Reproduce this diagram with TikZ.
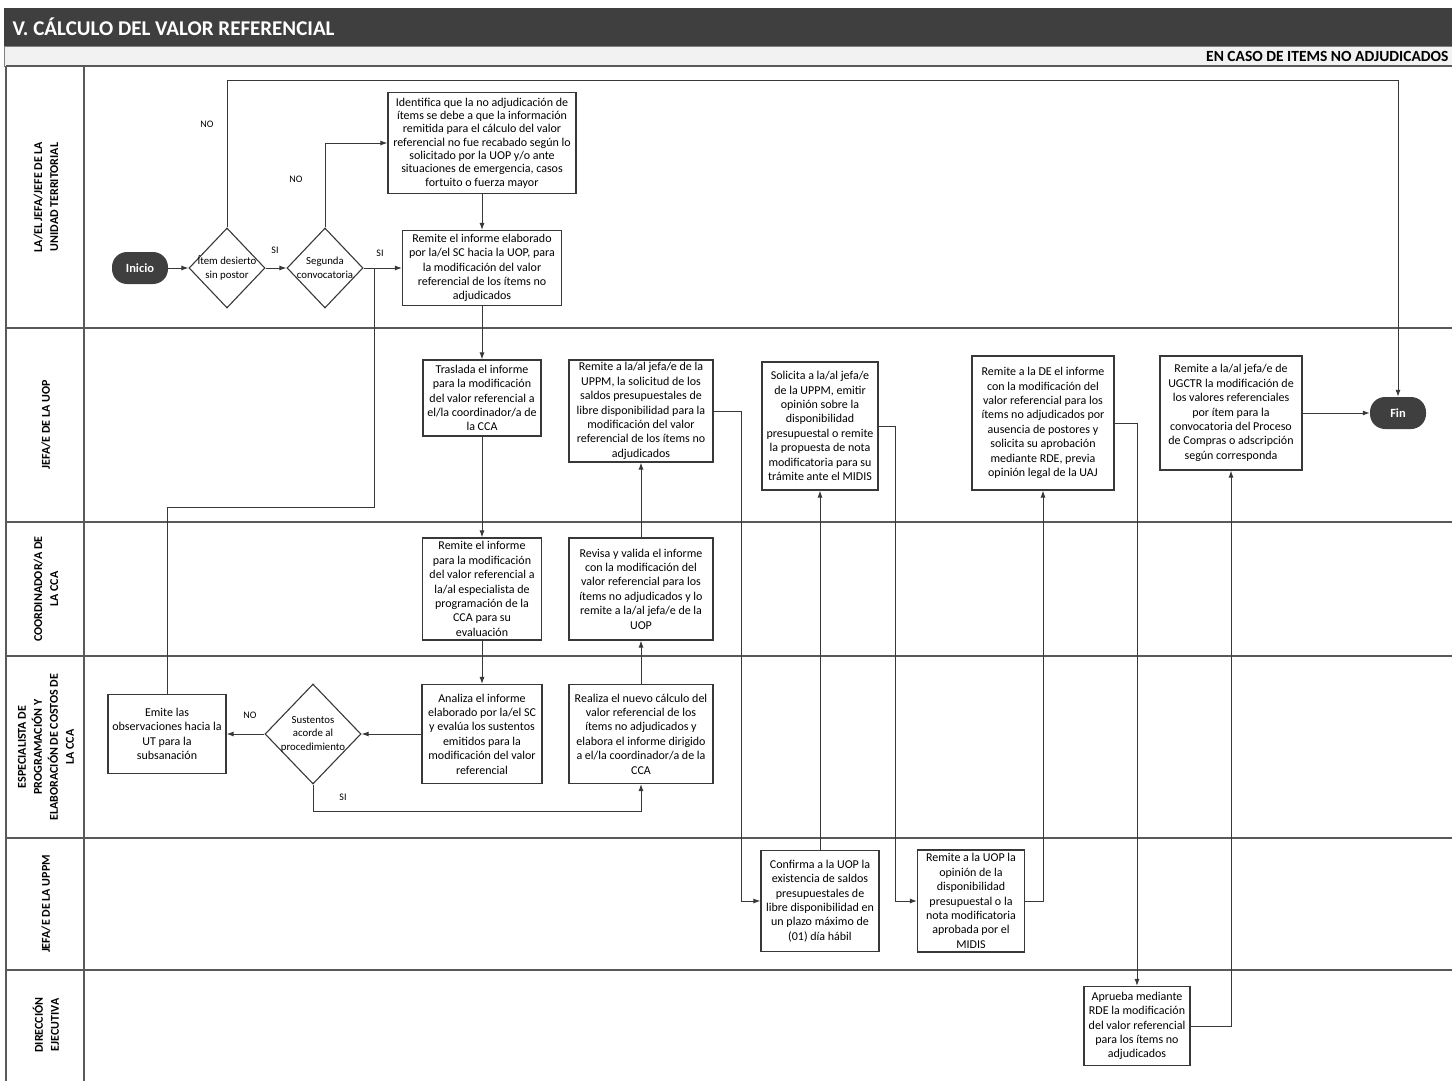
\documentclass[tikz,border=0pt]{standalone}
\usepackage{fontspec}
\setmainfont{Carlito}
\usetikzlibrary{shapes.geometric,arrows.meta}
\definecolor{grisosc}{HTML}{3F3F3F}
\definecolor{grisclaro}{HTML}{F2F2F2}
\definecolor{trazo}{HTML}{383838}

\begin{document}
\begin{tikzpicture}[x=1pt,y=-1pt,
    caja/.style={draw=trazo, line width=1.1pt, fill=white, align=center, inner sep=1pt, font=\fontsize{12}{14.4}\selectfont},
    rombo/.style={diamond, draw=trazo, line width=1.1pt, fill=white, align=center, inner sep=-12pt, font=\fontsize{10.8}{13.6}\selectfont},
    terminal/.style={rounded corners=15pt, fill=grisosc, text=white, font=\bfseries\fontsize{12.5}{14}\selectfont, minimum width=56pt, minimum height=32pt},
    flecha/.style={draw=trazo, line width=1pt, -{Latex[length=7pt,width=5pt]}},
    conector/.style={draw=trazo, line width=1pt},
    etq/.style={font=\fontsize{10}{12}\selectfont},
    carril/.style={draw=black!65, line width=1.4pt},
    titcarril/.style={rotate=90, align=center, font=\bfseries\fontsize{12}{16}\selectfont}]
    \useasboundingbox (0,0) rectangle (1452,1081);

    % Encabezado
    \fill[grisosc] (4,8) rectangle (1452,46);
    \node[anchor=west, text=white, font=\bfseries\fontsize{21}{24}\selectfont] (titulo) at (9,27) {V. CÁLCULO DEL VALOR REFERENCIAL};
    \draw[draw=black!50, fill=grisclaro] (4,46) rectangle (1452,66);
    \node[anchor=east, font=\bfseries\fontsize{15.5}{17}\selectfont] (subtitulo) at (1452,56) {EN CASO DE ITEMS NO ADJUDICADOS};

    % Carriles
    \foreach \yc in {66,328,522,656,838,970}
      \draw[carril] (6,\yc) -- (1452,\yc);
    \draw[carril] (6,66) -- (6,1081);
    \draw[carril] (84,66) -- (84,1081);

    \node[titcarril] (c1) at (46,197) {LA/EL JEFA/JEFE DE LA\\UNIDAD TERRITORIAL};
    \node[titcarril] (c2) at (46,425) {JEFA/E DE LA UOP};
    \node[titcarril] (c3) at (46,589) {COORDINADOR/A DE\\LA CCA};
    \node[titcarril] (c4) at (46,747) {ESPECIALISTA DE\\PROGRAMACIÓN Y\\ELABORACIÓN DE COSTOS DE\\LA CCA};
    \node[titcarril] (c5) at (46,904) {JEFA/E DE LA UPPM};
    \node[titcarril] (c6) at (46,1025) {DIRECCIÓN\\EJECUTIVA};

    % Unidad territorial
    \node[terminal] (inicio) at (140,268) {Inicio};
    \node[rombo, minimum width=76pt, minimum height=80pt] (d1) at (227,268) {Ítem desierto\\sin postor};
    \node[rombo, minimum width=76pt, minimum height=80pt] (d2) at (325,268) {Segunda\\convocatoria};
    \node[caja, minimum width=188pt, minimum height=101pt, font=\fontsize{12}{13.3}\selectfont] (identifica) at (482,143) {Identifica que la no adjudicación de\\ítems se debe a que la información\\remitida para el cálculo del valor\\referencial no fue recabado según lo\\solicitado por la UOP y/o ante\\situaciones de emergencia, casos\\fortuito o fuerza mayor};
    \node[caja, minimum width=159pt, minimum height=75pt] (remiteSC) at (482,268) {Remite el informe elaborado\\por la/el SC hacia la UOP, para\\la modificación del valor\\referencial de los ítems no\\adjudicados};
    \node[terminal] (fin) at (1398,413) {Fin};

    % UOP
    \node[caja, minimum width=118pt, minimum height=76pt] (traslada) at (482,398) {Traslada el informe\\para la modificación\\del valor referencial a\\el/la coordinador/a de\\la CCA};
    \node[caja, minimum width=144pt, minimum height=102pt] (remiteUPPM) at (641,411) {Remite a la/al jefa/e de la\\UPPM, la solicitud de los\\saldos presupuestales de\\libre disponibilidad para la\\modificación del valor\\referencial de los ítems no\\adjudicados};
    \node[caja, minimum width=116pt, minimum height=128pt] (solicita) at (820,426) {Solicita a la/al jefa/e\\de la UPPM, emitir\\opinión sobre la\\disponibilidad\\presupuestal o remite\\la propuesta de nota\\modificatoria para su\\trámite ante el MIDIS};
    \node[caja, minimum width=142pt, minimum height=134pt] (remiteDE) at (1043,423) {Remite a la DE el informe\\con la modificación del\\valor referencial para los\\ítems no adjudicados por\\ausencia de postores y\\solicita su aprobación\\mediante RDE, previa\\opinión legal de la UAJ};
    \node[caja, minimum width=142pt, minimum height=114pt] (ugctr) at (1231,413) {Remite a la/al jefa/e de\\UGCTR la modificación de\\los valores referenciales\\por ítem para la\\convocatoria del Proceso\\de Compras o adscripción\\según corresponda};

    % CCA
    \node[caja, minimum width=119pt, minimum height=102pt] (remiteCCA) at (482,589) {Remite el informe\\para la modificación\\del valor referencial a\\la/al especialista de\\programación de la\\CCA para su\\evaluación};
    \node[caja, minimum width=144pt, minimum height=102pt] (revisa) at (641,589) {Revisa y valida el informe\\con la modificación del\\valor referencial para los\\ítems no adjudicados y lo\\remite a la/al jefa/e de la\\UOP};

    % Especialista
    \node[caja, minimum width=118pt, minimum height=79pt] (emite) at (167,734) {Emite las\\observaciones hacia la\\UT para la\\subsanación};
    \node[rombo, minimum width=96pt, minimum height=100pt] (sustentos) at (313,734) {Sustentos\\acorde al\\procedimiento};
    \node[caja, minimum width=120pt, minimum height=99pt] (analiza) at (482,734) {Analiza el informe\\elaborado por la/el SC\\y evalúa los sustentos\\emitidos para la\\modificación del valor\\referencial};
    \node[caja, minimum width=144pt, minimum height=99pt] (realiza) at (641,734) {Realiza el nuevo cálculo del\\valor referencial de los\\ítems no adjudicados y\\elabora el informe dirigido\\a el/la coordinador/a de la\\CCA};

    % UPPM
    \node[caja, minimum width=118pt, minimum height=101pt] (confirma) at (820,901) {Confirma a la UOP la\\existencia de saldos\\presupuestales de\\libre disponibilidad en\\un plazo máximo de\\(01) día hábil};
    \node[caja, minimum width=107pt, minimum height=102pt] (opinion) at (971,901) {Remite a la UOP la\\opinión de la\\disponibilidad\\presupuestal o la\\nota modificatoria\\aprobada por el\\MIDIS};

    % Dirección ejecutiva
    \node[caja, minimum width=106pt, minimum height=79pt] (aprueba) at (1137,1026) {Aprueba mediante\\RDE la modificación\\del valor referencial\\para los ítems no\\adjudicados};

    % Conectores
    \coordinate (topeNO) at (227,81);
    \coordinate (union) at (374,268);
    \coordinate (retorno) at (374,507);
    \draw[flecha] (inicio) -- (d1);
    \draw[flecha] (d1) -- (d2);
    \draw[flecha] (d1.north) -- (topeNO) -| (fin.north);
    \draw[flecha] (d2.north) |- (identifica.west);
    \draw[flecha] (d2.east) -- (remiteSC.west);
    \draw[flecha] (identifica) -- (remiteSC);
    \draw[flecha] (remiteSC) -- (traslada);
    \draw[flecha] (traslada) -- (remiteCCA);
    \draw[flecha] (remiteCCA) -- (analiza);
    \draw[flecha] (analiza) -- (sustentos);
    \draw[flecha] (sustentos) -- (emite);
    \draw[flecha] (sustentos.south) -- ++(0,27) -| (realiza.south);
    \draw[conector] (emite.north) |- (retorno) -- (union);
    \draw[flecha] (realiza) -- (revisa);
    \draw[flecha] (revisa) -- (remiteUPPM);
    \draw[flecha] (remiteUPPM.east) -- ++(28,0) |- (confirma.west);
    \draw[flecha] (confirma) -- (solicita);
    \draw[flecha] (solicita.east) -- ++(17,0) |- (opinion.west);
    \draw[flecha] (opinion.east) -| (remiteDE.south);
    \draw[flecha] (remiteDE.east) -| (aprueba.north);
    \draw[flecha] (aprueba.east) -| (ugctr.south);
    \draw[flecha] (ugctr) -- (fin);

    % Etiquetas
    \node[etq] (no1) at (207,124) {NO};
    \node[etq] (no2) at (296,179) {NO};
    \node[etq] (si1) at (275,250) {SI};
    \node[etq] (si2) at (380,253) {SI};
    \node[etq] (no3) at (250,715) {NO};
    \node[etq] (si3) at (343,797) {SI};
\end{tikzpicture}
\end{document}
